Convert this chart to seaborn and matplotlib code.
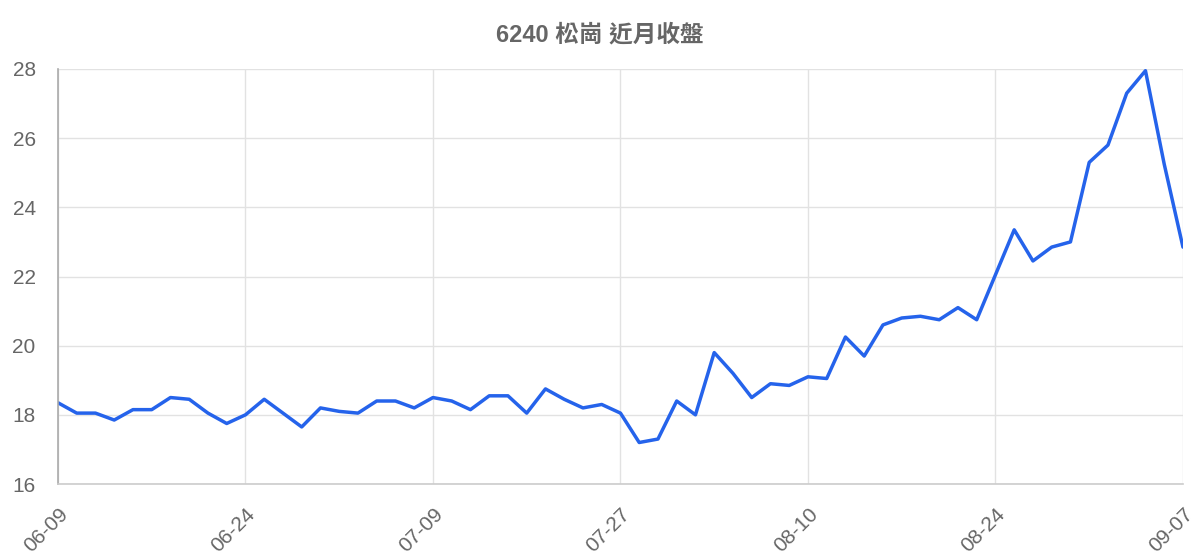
import matplotlib
matplotlib.use("Agg")
import matplotlib.pyplot as plt
import seaborn as sns
import pandas as pd

# ── Data ──────────────────────────────────────────────────────
dates = [
    "06-09", "06-10", "06-11", "06-15", "06-16", "06-17", "06-18", "06-21", "06-22", "06-23",
    "06-24", "06-25", "06-28", "06-29", "06-30", "07-01", "07-02", "07-05", "07-06", "07-07",
    "07-09", "07-12", "07-13", "07-14", "07-15", "07-16", "07-19", "07-20", "07-21", "07-23",
    "07-27", "07-28", "07-29", "07-30", "08-02", "08-03", "08-04", "08-05", "08-06", "08-09",
    "08-10", "08-11", "08-12", "08-13", "08-16", "08-17", "08-18", "08-19", "08-20", "08-23",
    "08-24", "08-25", "08-26", "08-27", "08-30", "08-31", "09-01", "09-02", "09-03", "09-06",
    "09-07",
]
close = [
    18.35, 18.05, 18.05, 17.85, 18.15, 18.15, 18.50, 18.45, 18.05, 17.75,
    18.00, 18.45, 18.05, 17.65, 18.20, 18.10, 18.05, 18.40, 18.40, 18.20,
    18.50, 18.40, 18.15, 18.55, 18.55, 18.05, 18.75, 18.45, 18.20, 18.30,
    18.05, 17.20, 17.30, 18.40, 18.00, 19.80, 19.20, 18.50, 18.90, 18.85,
    19.10, 19.05, 20.25, 19.70, 20.60, 20.80, 20.85, 20.75, 21.10, 20.75,
    22.05, 23.35, 22.45, 22.85, 23.00, 25.30, 25.80, 27.30, 27.95, 25.25,
    22.85,
]
tick_labels = ["06-09", "06-24", "07-09", "07-27", "08-10", "08-24", "09-07"]
y_ticks = [16, 18, 20, 22, 24, 26, 28]
title = "6240 松崗 近月收盤"

# ── Style ─────────────────────────────────────────────────────
sns.set_style("white")
plt.rcParams["font.family"] = ["Liberation Sans", "Noto Sans CJK TC", "DejaVu Sans"]
GRID = "#e2e2e2"
TEXT = "#666666"
LINE = "#2563eb"

df = pd.DataFrame({"date": dates, "close": close})

fig = plt.figure(figsize=(12, 5.6), dpi=100)
ax = fig.add_axes([0.0483, 0.1357, 0.9375, 0.7411])

sns.lineplot(data=df, x="date", y="close", ax=ax, color=LINE,
             linewidth=2.5, sort=False)

ax.set_xlim(0, len(dates) - 1)
ax.set_ylim(y_ticks[0], y_ticks[-1])
ax.set_yticks(y_ticks)
ax.set_yticklabels([str(v) for v in y_ticks])
ax.set_xticks([dates.index(t) for t in tick_labels])
ax.set_xticklabels(tick_labels, rotation=45, ha="right", va="top",
                   rotation_mode="anchor")

ax.grid(True, color=GRID, linewidth=1)
ax.tick_params(axis="both", length=14, width=1, color=GRID,
               labelsize=15, labelcolor=TEXT, pad=2)
ax.tick_params(axis="x", pad=1)

for side in ["top", "right"]:
    ax.spines[side].set_visible(False)
ax.spines["left"].set_color("#aaaaaa")
ax.spines["left"].set_linewidth(1.2)
ax.spines["bottom"].set_color("#cccccc")
ax.spines["bottom"].set_linewidth(1.2)

ax.set_xlabel("")
ax.set_ylabel("")
fig.text(0.5, 1 - 35 / 560, title, ha="center", va="center",
         fontsize=17, fontweight="bold", color=TEXT)

fig.savefig("out.png", dpi=100)
plt.close(fig)
